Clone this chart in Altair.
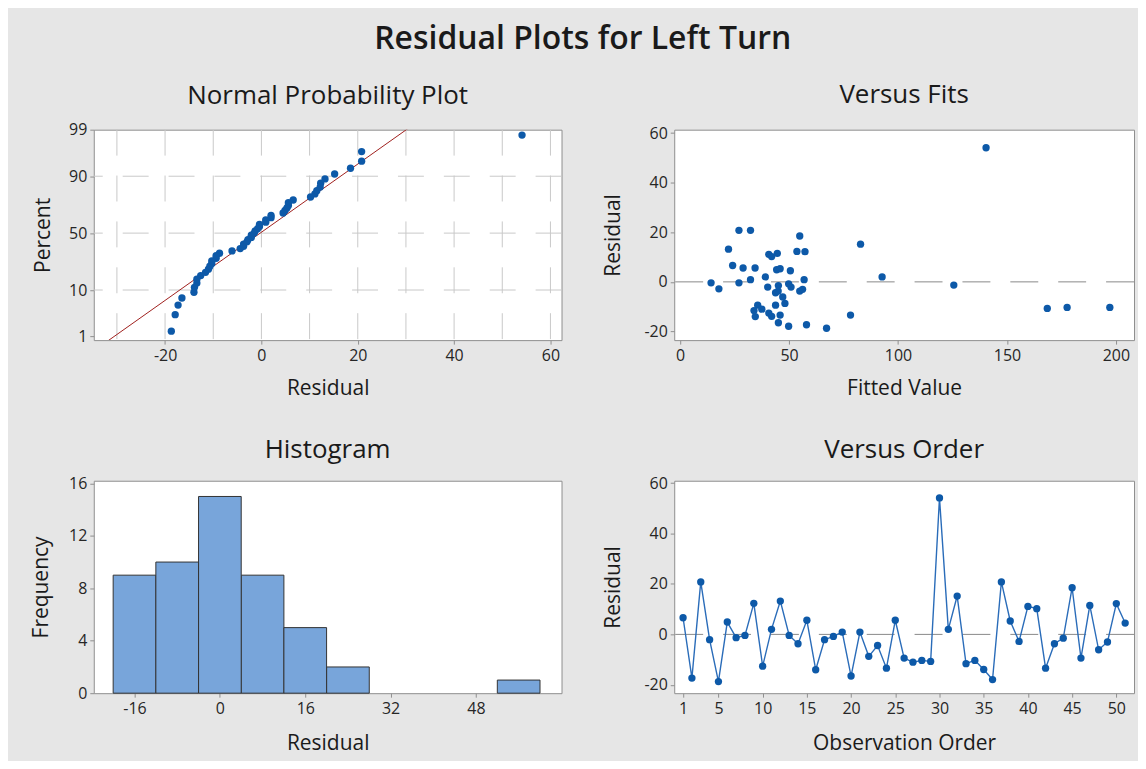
import altair as alt
import numpy as np
import pandas as pd
from statistics import NormalDist

# ---------------- data ----------------
OBS = list(range(1, 52))
RESIDUALS = [6.6, -17.3, 20.8, -2.1, -18.7, 4.9, -1.3, -0.4, 12.3, -12.6,
             2.0, 13.2, -0.4, -3.7, 5.6, -14.0, -2.1, -0.8, 0.9, -16.5,
             0.9, -8.7, -4.4, -13.4, 5.6, -9.4, -11.0, -10.3, -10.7, 54.1,
             2.0, 15.2, -11.6, -10.3, -13.9, -17.9, 20.8, 5.3, -2.8, 11.1,
             10.2, -13.4, -3.7, -1.5, 18.5, -9.4, 11.5, -6.1, -3.0, 12.2, 4.5]
FITTED = [24.1, 58.0, 27.0, 40.2, 67.2, 44.3, 125.6, 14.2, 53.6, 40.7,
          39.1, 22.2, 27.0, 54.9, 28.9, 34.5, 50.9, 49.8, 32.3, 45.1,
          56.9, 48.1, 43.8, 78.2, 34.4, 35.6, 37.5, 177.6, 168.5, 140.4,
          92.7, 82.8, 33.9, 197.2, 42.0, 49.8, 32.3, 45.9, 17.8, 40.7,
          42.0, 45.9, 45.0, 45.1, 54.9, 43.8, 44.6, 47.1, 56.2, 57.3, 50.6]

PCT_TICKS = [1, 10, 50, 90, 99]
PCT_GRID = [10, 50, 90]
NPP_GRID_X = [-30, -20, -10, 0, 10, 20, 30, 40, 50, 60]
NPP_X_TICKS = [-20, 0, 20, 40, 60]
FIT_X_TICKS = [0, 50, 100, 150, 200]
RES_TICKS = [-20, 0, 20, 40, 60]
HIST_X_TICKS = [-16, 0, 16, 32, 48]
HIST_Y_TICKS = [0, 4, 8, 12, 16]
ORDER_TICKS = [1, 5, 10, 15, 20, 25, 30, 35, 40, 45, 50]
BIN_EXTENT = [-20, 60]
BIN_STEP = 8
ZERO_REF = [0]

# ---------------- styling ----------------
FONT = "Open Sans"
BLUE = "#0d59a8"
LINE_BLUE = "#2a6cb9"
RED = "#a0201e"
GRID = "#c9c9c9"
REF = "#8a8a8a"
BAR = "#78a5da"
TXT = "#1a1a1a"
PLAIN = "'' + datum.value"

nd = NormalDist()
Z_TICKS = [nd.inv_cdf(p / 100) for p in PCT_TICKS]
Z_GRID = [nd.inv_cdf(p / 100) for p in PCT_GRID]

df = pd.DataFrame({"obs": OBS, "fit": FITTED, "res": RESIDUALS})
mu = float(np.mean(RESIDUALS))
sd = float(np.std(RESIDUALS, ddof=1))
line_df = pd.DataFrame({"z": [-3.0, 3.0]})
line_df["x"] = mu + sd * line_df["z"]
gridx_df = pd.DataFrame({"g": NPP_GRID_X})
gridz_df = pd.DataFrame({"z": Z_GRID})
zero_df = pd.DataFrame({"y": ZERO_REF})

W_L, W_R = 469, 461
H_T, H_B = 211, 213
PT = 54


def sub_title(text, off):
    return alt.TitleParams(text, font=FONT, fontSize=26, fontWeight="normal",
                           color=TXT, anchor="middle", baseline="alphabetic",
                           offset=off)


def xaxis(values, title, w, ty=55, expr=PLAIN):
    return alt.Axis(values=values, title=title, labelExpr=expr, titleX=w / 2,
                    titleY=ty, titleBaseline="alphabetic")


def yaxis(values, title, h, tx, expr=PLAIN):
    return alt.Axis(values=values, title=title, labelExpr=expr, titleX=-tx,
                    titleY=h / 2, titleBaseline="middle", titleAngle=270)


# ---------------- Normal probability plot ----------------
npp_x = alt.Scale(domain=[-34.8, 62.3], nice=False, zero=False)
npp_y = alt.Scale(domain=[-2.41, 2.33], nice=False, zero=False)
npp_xax = xaxis(NPP_X_TICKS, "Residual", W_L)
npp_yax = yaxis(Z_TICKS, "Percent", H_T, 50,
                expr="format(cumulativeNormal(datum.value) * 100, '.0f')")

npp_gx = alt.Chart(gridx_df).mark_rule(color=GRID, strokeDash=[26, 20], strokeWidth=1).encode(
    x=alt.X("g:Q", scale=npp_x, axis=npp_xax))
npp_gy = alt.Chart(gridz_df).mark_rule(color=GRID, strokeDash=[26, 20], strokeWidth=1).encode(
    y=alt.Y("z:Q", scale=npp_y, axis=npp_yax))
npp_line = alt.Chart(line_df).mark_line(color=RED, strokeWidth=1, clip=True).encode(
    x=alt.X("x:Q", scale=npp_x, axis=npp_xax), y=alt.Y("z:Q", scale=npp_y, axis=npp_yax))
npp_pts = alt.Chart(df).transform_window(
    rank="row_number()", sort=[alt.SortField("res")]
).transform_joinaggregate(
    n="count(res)"
).transform_calculate(
    z="quantileNormal((datum.rank - 0.3) / (datum.n + 0.4))"
).mark_point(filled=True, shape="circle", size=PT, color=BLUE, opacity=1).encode(
    x=alt.X("res:Q", scale=npp_x, axis=npp_xax),
    y=alt.Y("z:Q", scale=npp_y, axis=npp_yax),
)
npp = alt.layer(npp_gx, npp_gy, npp_line, npp_pts).properties(
    width=W_L, height=H_T, title=sub_title("Normal Probability Plot", -8))

# ---------------- Versus fits ----------------
fit_x = alt.Scale(domain=[-2.7, 208.3], nice=False, zero=False)
fit_y = alt.Scale(domain=[-23.5, 61.4], nice=False, zero=False)
fit_xax = xaxis(FIT_X_TICKS, "Fitted Value", W_R)
fit_yax = yaxis(RES_TICKS, "Residual", H_T, 61)
fit_ref = alt.Chart(zero_df).mark_rule(color=REF, strokeDash=[28, 20], strokeWidth=1).encode(
    y=alt.Y("y:Q", scale=fit_y, axis=fit_yax))
fit_pts = alt.Chart(df).mark_point(filled=True, shape="circle", size=PT, color=BLUE, opacity=1).encode(
    x=alt.X("fit:Q", scale=fit_x, axis=fit_xax),
    y=alt.Y("res:Q", scale=fit_y, axis=fit_yax),
)
fits = alt.layer(fit_ref, fit_pts).properties(
    width=W_R, height=H_T, title=sub_title("Versus Fits", -4))

# ---------------- Histogram ----------------
hist_x = alt.Scale(domain=[-22.7, 63.1], nice=False, zero=False)
hist_y = alt.Scale(domain=[0, 16.2], nice=False, zero=False)
hist = alt.Chart(df).transform_bin(
    "b", "res", bin=alt.Bin(extent=BIN_EXTENT, step=BIN_STEP, nice=False)
).mark_bar(color=BAR, stroke="#333333", strokeWidth=1, opacity=1).encode(
    x=alt.X("b:Q", scale=hist_x, axis=xaxis(HIST_X_TICKS, "Residual", W_L, ty=56)),
    x2="b_end:Q",
    y=alt.Y("count():Q", scale=hist_y, axis=yaxis(HIST_Y_TICKS, "Frequency", H_B, 52)),
).properties(width=W_L, height=H_B, title=sub_title("Histogram", -9))

# ---------------- Versus order ----------------
ord_x = alt.Scale(domain=[0, 52], nice=False, zero=False)
ord_y = alt.Scale(domain=[-23.3, 60.9], nice=False, zero=False)
ord_xax = xaxis(ORDER_TICKS, "Observation Order", W_R, ty=56)
ord_yax = yaxis(RES_TICKS, "Residual", H_B, 61)
ord_ref = alt.Chart(zero_df).mark_rule(color=REF, strokeDash=[28, 20], strokeWidth=1).encode(
    y=alt.Y("y:Q", scale=ord_y, axis=ord_yax))
ord_line = alt.Chart(df).mark_line(color=LINE_BLUE, strokeWidth=1.4).encode(
    x=alt.X("obs:Q", scale=ord_x, axis=ord_xax), y=alt.Y("res:Q", scale=ord_y, axis=ord_yax))
ord_pts = alt.Chart(df).mark_point(filled=True, shape="circle", size=PT, color=BLUE, opacity=1).encode(
    x=alt.X("obs:Q", scale=ord_x, axis=ord_xax),
    y=alt.Y("res:Q", scale=ord_y, axis=ord_yax),
)
order = alt.layer(ord_ref, ord_line, ord_pts).properties(
    width=W_R, height=H_B, title=sub_title("Versus Order", -9))

# ---------------- assemble ----------------
chart = alt.concat(
    npp, fits, hist, order, columns=2, bounds="flush",
    spacing={"row": 141, "column": 113},
).properties(
    title=alt.TitleParams("Residual Plots for Left Turn", font=FONT, fontSize=32,
                          fontWeight=600, color=TXT, anchor="middle", offset=26),
    padding={"left": 22, "top": 13, "right": 3, "bottom": 6},
    background="#e6e6e6",
).configure_view(
    fill="white", stroke="#8f8f8f", strokeWidth=1
).configure_axis(
    labelFont=FONT, labelFontSize=16, labelColor="#262626", labelPadding=3,
    titleFont=FONT, titleFontSize=21, titleFontWeight="normal", titleColor=TXT,
    tickColor="#8f8f8f", tickSize=4, domain=False, grid=False,
)

chart.save("out.html", embed_options={"renderer": "svg", "actions": False})
